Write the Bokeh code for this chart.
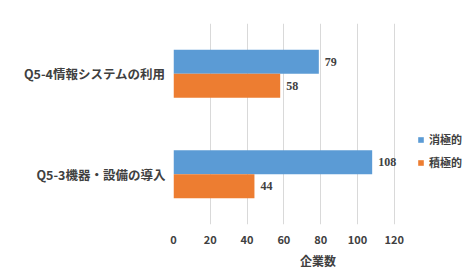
from bokeh.plotting import figure
from bokeh.models import ColumnDataSource, LabelSet, Legend, LegendItem, FixedTicker
from bokeh.transform import dodge
from bokeh.embed import file_html
from bokeh.resources import INLINE

categories = ["Q5-3機器・設備の導入", "Q5-4情報システムの利用"]
passive = [108, 79]      # 消極的
active = [44, 58]        # 積極的
series_names = ["消極的", "積極的"]
x_ticks = [0, 20, 40, 60, 80, 100, 120]

FONT = "Noto Sans CJK JP"
TXT = "#404040"
BLUE = "#5B9BD5"
ORANGE = "#ED7D31"

src = ColumnDataSource(dict(cat=categories, passive=passive, active=active,
                            passive_lbl=[str(v) for v in passive],
                            active_lbl=[str(v) for v in active]))

p = figure(width=462, height=271, y_range=categories, x_range=(0, 157.1),
           output_backend="svg", toolbar_location=None,
           min_border_left=173, min_border_right=0, min_border_top=23, min_border_bottom=47)

bw = 0.24
r1 = p.hbar(y=dodge("cat", 0.12, range=p.y_range), right="passive", height=bw,
            source=src, color=BLUE, line_color=None)
r2 = p.hbar(y=dodge("cat", -0.12, range=p.y_range), right="active", height=bw,
            source=src, color=ORANGE, line_color=None)

for col, lbl, off in (("passive", "passive_lbl", 0.12), ("active", "active_lbl", -0.12)):
    p.add_layout(LabelSet(x=col, y=dodge("cat", off, range=p.y_range), text=lbl, source=src,
                          x_offset=6, text_baseline="middle", text_font=FONT,
                          text_font_style="bold", text_font_size="12px", text_color=TXT))

p.outline_line_color = None
p.background_fill_color = "white"
p.border_fill_color = "white"

p.xaxis.ticker = FixedTicker(ticks=x_ticks)
p.xgrid.ticker = FixedTicker(ticks=x_ticks)
p.xgrid.grid_line_color = "#D9D9D9"
p.ygrid.grid_line_color = None

p.xaxis.axis_line_color = None
p.xaxis.major_tick_line_color = None
p.xaxis.minor_tick_line_color = None
p.xaxis.major_tick_out = 0
p.xaxis.major_label_standoff = 10
p.xaxis.major_label_text_font = FONT
p.xaxis.major_label_text_font_style = "bold"
p.xaxis.major_label_text_font_size = "11px"
p.xaxis.major_label_text_color = TXT
p.xaxis.axis_label = "企業数"
p.xaxis.axis_label_text_font = FONT
p.xaxis.axis_label_text_font_style = "bold"
p.xaxis.axis_label_text_font_size = "12px"
p.xaxis.axis_label_text_color = TXT
p.xaxis.axis_label_standoff = 5

p.yaxis.axis_line_color = None
p.yaxis.major_tick_line_color = None
p.yaxis.minor_tick_line_color = None
p.yaxis.major_tick_out = 0
p.yaxis.major_label_standoff = 8
p.yaxis.major_label_text_font = FONT
p.yaxis.major_label_text_font_style = "bold"
p.yaxis.major_label_text_font_size = "12.5px"
p.yaxis.major_label_text_color = TXT

legend = Legend(items=[LegendItem(label=series_names[0], renderers=[r1]),
                       LegendItem(label=series_names[1], renderers=[r2])],
                location=(244, 54), padding=0, margin=0, spacing=7,
                glyph_width=7, glyph_height=7, label_height=14, label_standoff=5,
                label_text_font=FONT, label_text_font_style="bold",
                label_text_font_size="11px", label_text_color=TXT,
                background_fill_alpha=0, border_line_color=None)
p.add_layout(legend)

open("out.html", "w").write(file_html(p, INLINE))
